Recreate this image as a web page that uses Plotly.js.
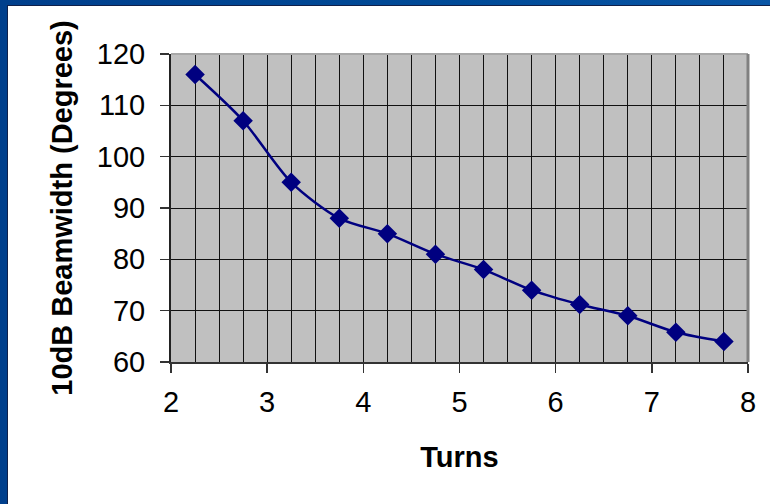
<!DOCTYPE html>
<html>
<head>
<meta charset="utf-8">
<script src="https://cdn.plot.ly/plotly-3.0.1.min.js"></script>
<style>
  html, body { margin: 0; padding: 0; width: 770px; height: 504px; overflow: hidden;
    background: linear-gradient(90deg, #003f8c 0%, #004b98 60%, #0a56a6 100%); }
  #wrap { position: absolute; left: 7px; top: 5px; width: 763px; height: 499px;
    background: #fff; border-left: 1px solid #10204a; border-top: 1px solid #10204a; }
  #chart { width: 762px; height: 498px; }
</style>
</head>
<body>
<div id="wrap"><div id="chart"></div></div>
<script>
const turns = [2.25, 2.75, 3.25, 3.75, 4.25, 4.75, 5.25, 5.75, 6.25, 6.75, 7.25, 7.75];
const beamwidth = [116, 107, 95, 88, 85, 81, 78, 74, 71.2, 69, 65.8, 64];
const xTicks = [2, 3, 4, 5, 6, 7, 8];
const yTicks = [60, 70, 80, 90, 100, 110, 120];

const font = 'Liberation Sans, Arial, sans-serif';

const trace = {
  x: turns, y: beamwidth, type: 'scatter', mode: 'lines+markers',
  line: { color: '#000080', width: 2.5, shape: 'spline', smoothing: 0.8 },
  marker: { symbol: 'diamond', size: 15, color: '#000080' },
  hoverinfo: 'skip'
};

const layout = {
  width: 762, height: 498,
  margin: { l: 163, r: 22, t: 48, b: 142, pad: 0 },
  paper_bgcolor: '#ffffff', plot_bgcolor: '#c0c0c0',
  showlegend: false,
  font: { family: font, color: '#000' },
  xaxis: {
    range: [2, 8], tickvals: xTicks, ticktext: xTicks.map(String),
    ticks: 'outside', ticklen: 9, tickwidth: 1.5, tickcolor: '#333',
    tickfont: { size: 29, family: font, color: '#000' },
    ticklabelstandoff: 4,
    showgrid: true, gridcolor: '#111', gridwidth: 1,
    minor: { dtick: 0.25, tick0: 2, showgrid: true, gridcolor: '#111', gridwidth: 1, ticks: '' },
    showline: true, linecolor: '#333', linewidth: 2,
    zeroline: false, fixedrange: true,
    title: { text: '<b>Turns</b>', font: { size: 29, family: font, color: '#000' }, standoff: 30 }
  },
  yaxis: {
    range: [60, 120], tickvals: yTicks, ticktext: yTicks.map(String),
    ticks: 'outside', ticklen: 9, tickwidth: 1.5, tickcolor: '#333',
    tickfont: { size: 29, family: font, color: '#000' },
    ticklabelstandoff: 9,
    showgrid: true, gridcolor: '#111', gridwidth: 1,
    showline: true, linecolor: '#222', linewidth: 2,
    zeroline: false, fixedrange: true,
    title: { text: '<b>10dB Beamwidth (Degrees)</b>', font: { size: 29, family: font, color: '#000' }, standoff: 16 }
  },
  shapes: [
    { type: 'line', xref: 'paper', yref: 'paper', x0: 0, x1: 1, y0: 1, y1: 1,
      line: { color: '#a8a8a8', width: 2 } },
    { type: 'line', xref: 'paper', yref: 'paper', x0: 1, x1: 1, y0: 0, y1: 1,
      line: { color: '#808080', width: 3 } }
  ]
};

Plotly.newPlot('chart', [trace], layout, { displayModeBar: false, staticPlot: true });
</script>
</body>
</html>
